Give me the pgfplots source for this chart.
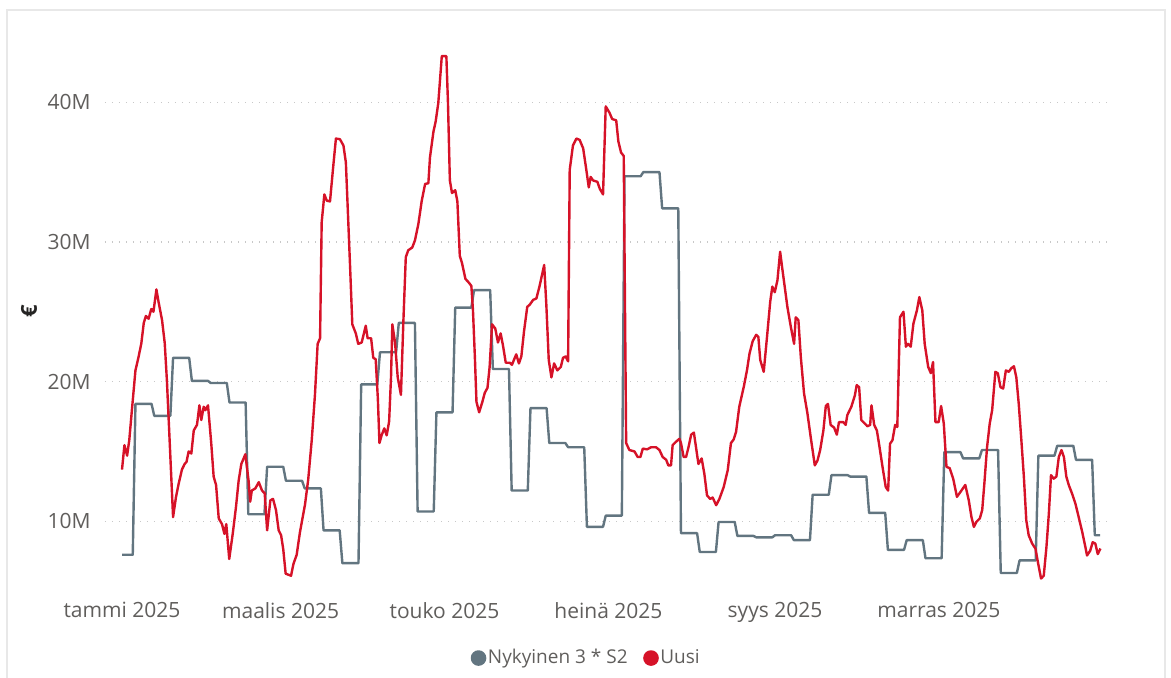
\documentclass[border=0pt]{standalone}
\usepackage{fontspec}
\setmainfont{Open Sans}
\usepackage{pgfplots}
\pgfplotsset{compat=1.18}
\definecolor{uusired}{RGB}{214,18,40}
\definecolor{nykgray}{RGB}{98,117,128}
\definecolor{ticktext}{RGB}{96,94,92}
\definecolor{framegray}{RGB}{232,232,232}
\definecolor{gridgray}{RGB}{200,200,200}
\begin{document}
\begin{tikzpicture}
\useasboundingbox (-52.5pt,-44pt) rectangle (533pt,295pt);
\draw[framegray, line width=1pt] (-49pt,-44pt) -- (-49pt,290pt) -- (530pt,290pt) -- (530pt,-44pt);
\begin{axis}[
  scale only axis, width=503.5pt, height=270pt,
  at={(0pt,0pt)}, anchor=south west,
  xmin=-6.33, xmax=368.4, ymin=5.08, ymax=43.74,
  axis lines=left, axis line style={draw=none,-},
  major tick length=0pt,
  ytick={10,20,30,40}, yticklabels={10M,20M,30M,40M},
  xtick={0,59,120,181,243,304},
  xticklabels={tammi 2025,maalis 2025,touko 2025,heinä 2025,syys 2025,marras 2025},
  ymajorgrids,
  major grid style={gridgray, line width=0.7pt, dash pattern=on 0.7pt off 2.8pt},
  tick label style={font=\fontsize{10.5}{12}\selectfont, text=ticktext},
  yticklabel style={anchor=east, inner sep=0pt, xshift=-7pt},
  xticklabel style={anchor=north, inner sep=0pt, yshift=-6pt},
  ylabel={€},
  ylabel style={at={(axis description cs:-0.0755,0.516)}, anchor=center, font=\fontsize{11}{13}\selectfont\bfseries, text={rgb,255:red,37;green,36;blue,35}},
  legend style={at={(axis description cs:0.4777,-0.126)}, anchor=center, draw=none, fill=none,
    font=\fontsize{9.5}{11}\selectfont, text={rgb,255:red,96;green,94;blue,92},
    nodes={inner sep=0.8pt},
    /tikz/every even column/.append style={column sep=7pt}},
  legend columns=-1,
  legend image code/.code={\fill[#1] (3.3pt,0pt) circle (3.3pt);},
]
\addplot[nykgray, line width=1.2pt, line join=round] coordinates {
(0,7.6)(4,7.6)(5,18.4)(11,18.4)(12,17.55)(18,17.55)(19,21.7)(25,21.7)(26,20.05)(32,20.05)
(33,19.9)(39,19.9)(40,18.5)(46,18.5)(47,10.5)(53,10.5)(54,13.9)(60,13.9)(61,12.9)(67,12.9)
(68,12.35)(74,12.35)(75,9.35)(81,9.35)(82,7.0)(88,7.0)(89,19.8)(95,19.8)(96,22.1)(102,22.1)
(103,24.2)(109,24.2)(110,10.7)(116,10.7)(117,17.8)(123,17.8)(124,25.3)(130,25.3)(131,26.55)(137,26.55)
(138,20.9)(144,20.9)(145,12.2)(151,12.2)(152,18.1)(158,18.1)(159,15.6)(165,15.6)(166,15.3)(172,15.3)
(173,9.6)(179,9.6)(180,10.4)(186,10.4)(187,34.7)(193,34.7)(194,35.0)(200,35.0)(201,32.4)(207,32.4)
(208,9.15)(214,9.15)(215,7.8)(221,7.8)(222,9.95)(228,9.95)(229,8.95)(235,8.95)(236,8.85)(242,8.85)
(243,9.0)(249,9.0)(250,8.65)(256,8.65)(257,11.9)(263,11.9)(264,13.3)(270,13.3)(271,13.2)(277,13.2)
(278,10.6)(284,10.6)(285,7.95)(291,7.95)(292,8.65)(298,8.65)(299,7.35)(305,7.35)(306,14.95)(312,14.95)
(313,14.5)(319,14.5)(320,15.1)(326,15.1)(327,6.3)(333,6.3)(334,7.2)(340,7.2)(341,14.7)(347,14.7)
(348,15.4)(354,15.4)(355,14.4)(361,14.4)(362,9.0)(364,9.0)
};
\addlegendentry{Nykyinen 3 * S2}
\addplot[uusired, line width=1.2pt, line join=round] coordinates {
(0,13.7)(0.9,15.45)(1.9,14.7)(2.7,15.8)(3.7,18.0)(5,20.8)(6.2,21.8)(7.2,22.75)(8.1,24.2)(8.9,24.7)
(9.9,24.5)(10.9,25.2)(11.7,25.0)(12.8,26.6)(13.6,25.7)(14.9,24.4)(15.9,22.75)(16.7,20.1)(17.6,16.3)(19,10.3)
(20.1,11.75)(21.1,12.7)(22.3,13.7)(23.3,14.1)(24,14.25)(24.8,15.0)(25.8,14.85)(26.7,16.5)(27.9,16.9)(28.8,18.3)
(29.5,17.25)(30.4,18.2)(31,17.95)(32,18.3)(33.2,15.6)(34.1,13.2)(35,12.6)(36,10.2)(37.2,9.8)(38.1,9.1)
(38.8,9.8)(39.9,7.3)(41.2,9.1)(42.4,11.0)(43.4,12.9)(44.4,14.1)(45.9,14.8)(47.1,12.9)(47.7,11.4)(48.3,12.2)
(49.6,12.35)(50.9,12.8)(52.1,12.2)(53.1,12.0)(54,9.35)(55.2,11.5)(56.2,11.6)(57.3,10.8)(58.3,9.35)(59.2,9.0)
(60.0,8.0)(60.9,6.25)(62.9,6.1)(63.8,6.95)(65.0,7.6)(66.2,9.2)(68.1,11.2)(69.3,13.0)(70.6,15.8)(71.8,19.05)
(72.8,22.7)(73.7,23.1)(74.3,31.4)(75.3,33.4)(76.2,32.95)(77.4,32.9)(78.6,35.4)(79.6,37.4)(81.1,37.35)(82.4,36.9)
(83.3,35.7)(84.0,32.4)(84.9,28.1)(85.7,24.1)(87.0,23.45)(87.9,22.7)(89.2,22.8)(90.7,24.0)(91.4,23.1)(92.7,23.1)
(93.5,21.7)(94.4,21.6)(95.2,18.8)(95.8,15.6)(96.6,16.15)(97.6,16.65)(98.5,16.15)(99.4,17.15)(100.1,20.3)(100.6,24.1)
(101.6,22.8)(102.6,20.3)(103.8,19.05)(104.7,24.3)(105.6,28.9)(106.5,29.4)(108.0,29.6)(109.0,30.1)(110.3,31.3)(111.5,32.9)
(112.8,34.15)(114.0,34.2)(114.6,36.05)(115.9,37.9)(116.7,38.6)(117.7,39.95)(119.0,43.3)(120.7,43.3)(121.3,39.95)(122.0,34.4)
(122.8,33.5)(124.0,33.7)(124.8,32.9)(125.7,29.0)(126.5,28.5)(127.8,27.35)(129.0,27.1)(130.0,26.85)(130.6,25.1)(131.3,21.8)
(131.9,18.55)(132.9,17.8)(134.1,18.55)(135.0,19.2)(136.0,19.55)(136.8,21.05)(137.7,24.1)(138.9,23.8)(139.9,22.8)(140.9,23.45)
(141.8,22.55)(142.8,21.35)(144.3,21.35)(145.1,21.2)(146.7,21.95)(147.7,21.3)(148.6,21.8)(149.6,23.6)(150.8,25.35)(151.7,25.5)
(153.0,25.85)(154.2,25.95)(155.4,26.85)(157.1,28.35)(157.9,25.5)(158.8,21.55)(159.8,20.3)(160.8,21.3)(162.0,20.8)(163.3,21.05)
(164.1,21.7)(165.1,21.8)(166.0,21.45)(166.6,35.15)(167.8,36.9)(169.1,37.4)(170.3,37.3)(171.6,36.7)(172.6,35.4)(173.7,33.9)
(174.4,34.65)(175.3,34.4)(176.9,34.3)(177.8,33.8)(179.0,33.4)(180.0,39.7)(181.4,39.25)(182.4,38.8)(183.9,38.7)(184.7,37.2)
(185.7,36.4)(186.7,36.15)(187.6,15.6)(188.8,15.1)(190.7,15.0)(191.9,14.6)(192.9,14.6)(193.8,15.2)(195.4,15.15)(196.9,15.3)
(198.7,15.3)(200.0,15.1)(201.2,14.6)(202.5,14.4)(203.3,14.0)(204.3,14.0)(204.9,15.45)(206.2,15.7)(207.4,15.9)(208.0,15.6)
(209.0,14.6)(209.9,14.6)(210.8,15.3)(211.8,16.2)(212.8,16.35)(213.6,15.3)(214.5,14.1)(215.7,14.5)(216.7,13.4)(217.7,11.85)
(218.9,11.6)(219.8,11.7)(221.1,11.15)(222.3,11.6)(223.9,12.45)(225.4,13.65)(226.6,15.6)(227.6,15.85)(228.5,16.4)(229.7,18.2)
(231.4,19.65)(232.6,20.85)(233.5,22.0)(234.7,22.9)(236.0,23.35)(236.8,23.2)(237.5,21.55)(238.8,20.7)(239.9,22.95)(241.2,25.7)
(242.0,26.8)(242.9,26.4)(243.9,27.25)(244.9,29.3)(245.7,28.1)(246.6,26.8)(247.6,25.35)(248.9,23.9)(250.1,22.7)(250.7,24.6)
(251.7,24.4)(252.6,21.75)(253.8,19.15)(255.0,17.8)(256.3,16.0)(257.8,14.0)(258.8,14.35)(259.8,15.1)(261.0,16.5)(261.9,18.25)
(262.7,18.4)(263.7,16.9)(265.0,16.7)(266.0,16.2)(266.8,17.1)(268.4,17.1)(269.3,16.9)(269.9,17.6)(271.4,18.2)(272.7,19.0)
(273.4,19.75)(274.3,19.6)(275.1,17.25)(276.4,17.0)(277.4,16.8)(278.4,16.9)(278.9,18.3)(279.9,16.9)(280.9,16.5)(281.7,15.55)
(283.0,13.9)(284.2,12.45)(285.1,12.2)(285.8,15.55)(286.7,15.8)(287.7,16.9)(288.5,16.75)(289.5,24.6)(290.8,25.0)(291.7,22.5)
(292.5,22.7)(293.5,22.5)(294.5,24.15)(295.8,25.1)(296.7,26.05)(297.8,25.1)(298.7,22.7)(300.0,21.05)(301.0,20.6)(301.8,21.4)
(302.7,17.1)(303.9,17.1)(304.8,18.25)(305.8,17.0)(306.8,13.9)(308.0,13.8)(309.3,13.05)(310.7,11.75)(312.0,12.1)(313.8,12.6)
(315.1,11.5)(316.1,10.3)(317.0,9.6)(317.9,9.95)(319.2,10.2)(320.1,10.8)(320.9,12.7)(321.9,15.3)(322.9,17.0)(323.8,17.95)
(325.0,20.7)(325.9,20.6)(326.9,19.6)(327.9,19.5)(328.9,20.8)(330.0,20.7)(330.9,20.95)(331.9,21.1)(332.8,20.3)(333.7,18.4)
(334.6,16.0)(335.6,13.2)(336.5,10.07)(337.4,9.0)(338.7,8.4)(339.9,8.05)(340.9,7.0)(342.0,5.9)(343.0,6.1)(344.0,8.15)
(344.9,10.55)(345.7,13.3)(346.7,13.05)(347.7,13.2)(348.6,14.6)(349.6,15.1)(350.5,14.6)(351.4,13.2)(352.3,12.6)(353.5,12.0)
(354.8,11.25)(356.0,10.3)(357.3,9.25)(358.5,8.15)(359.1,7.55)(360.3,7.9)(361.2,8.5)(362.2,8.4)(363.1,7.65)(364.1,8.05)
};
\addlegendentry{Uusi}
\end{axis}
\end{tikzpicture}
\end{document}
